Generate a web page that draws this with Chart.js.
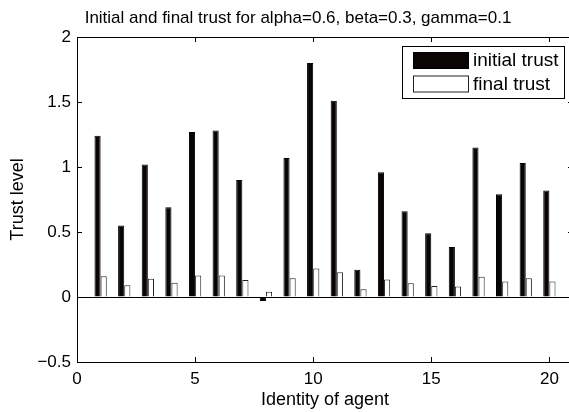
<!DOCTYPE html>
<html lang="en">
<head>
    <meta charset="UTF-8">
    <title>Initial and final trust</title>
    <script src="https://cdn.jsdelivr.net/npm/chart.js"></script>
    <style>
        html, body { margin: 0; padding: 0; background: #fff; overflow: hidden; }
        #wrap { width: 569px; height: 412px; overflow: hidden; }
    </style>
</head>
<body>
    <div id="wrap"><canvas id="chartCanvas" width="573" height="412"></canvas></div>

    <script>
        const agents = [1, 2, 3, 4, 5, 6, 7, 8, 9, 10, 11, 12, 13, 14, 15, 16, 17, 18, 19, 20];
        const initialTrust = [1.24, 0.55, 1.02, 0.69, 1.27, 1.28, 0.90, -0.03, 1.07, 1.80,
                              1.51, 0.21, 0.96, 0.66, 0.49, 0.385, 1.15, 0.79, 1.03, 0.82];
        const finalTrust = [0.16, 0.09, 0.14, 0.11, 0.165, 0.165, 0.13, 0.04, 0.145, 0.22,
                            0.19, 0.06, 0.135, 0.105, 0.085, 0.08, 0.155, 0.12, 0.145, 0.12];
        const xTicks = [0, 5, 10, 15, 20];
        const yTicks = [-0.5, 0, 0.5, 1, 1.5, 2];
        const titleText = 'Initial and final trust for alpha=0.6, beta=0.3, gamma=0.1';

        const FONT = '"Liberation Sans", Arial, Helvetica, sans-serif';

        // matlab style frame, inward ticks, title and boxed legend
        const matlabAxes = {
            id: 'matlabAxes',
            afterDraw(chart) {
                const { ctx, chartArea: a, scales } = chart;
                ctx.save();
                ctx.strokeStyle = '#000';
                ctx.lineWidth = 1;
                ctx.strokeRect(a.left + 0.5, a.top + 0.5, a.right - a.left, a.bottom - a.top);

                const tl = 5;
                ctx.beginPath();
                xTicks.forEach(v => {
                    const x = Math.round(scales.x.getPixelForValue(v)) + 0.5;
                    ctx.moveTo(x, a.bottom); ctx.lineTo(x, a.bottom - tl);
                    ctx.moveTo(x, a.top); ctx.lineTo(x, a.top + tl);
                });
                yTicks.forEach(v => {
                    const y = Math.round(scales.y.getPixelForValue(v)) + 0.5;
                    ctx.moveTo(a.left, y); ctx.lineTo(a.left + tl, y);
                    ctx.moveTo(a.right, y); ctx.lineTo(a.right - tl, y);
                });
                ctx.stroke();

                // title
                ctx.fillStyle = '#000';
                ctx.font = '17px ' + FONT;
                ctx.textAlign = 'center';
                ctx.textBaseline = 'alphabetic';
                ctx.fillText(titleText, 298, 23);

                // legend
                const bw = 162, bh = 52;
                const bx = a.right - 9 - bw, by = a.top + 9;
                ctx.fillStyle = '#fff';
                ctx.fillRect(bx, by, bw, bh);
                ctx.strokeRect(bx + 0.5, by + 0.5, bw, bh);
                ctx.font = '19px ' + FONT;
                ctx.textAlign = 'left';
                ctx.textBaseline = 'middle';
                chart.data.datasets.forEach((ds, i) => {
                    const sy = by + 6 + i * 23.5;
                    ctx.fillStyle = ds.backgroundColor;
                    ctx.fillRect(bx + 11, sy, 55, 16);
                    ctx.strokeStyle = ds.borderColor;
                    ctx.strokeRect(bx + 11.5, sy + 0.5, 55, 16);
                    ctx.fillStyle = '#000';
                    ctx.fillText(ds.label, bx + 71, sy + 9);
                });
                ctx.restore();
            }
        };

        const chart = new Chart(document.getElementById('chartCanvas'), {
            type: 'bar',
            data: {
                datasets: [{
                    label: 'initial trust',
                    data: agents.map((a, i) => ({ x: a, y: initialTrust[i] })),
                    backgroundColor: '#0a0405',
                    borderColor: '#000',
                    borderWidth: 1
                }, {
                    label: 'final trust',
                    data: agents.map((a, i) => ({ x: a, y: finalTrust[i] })),
                    backgroundColor: '#fff',
                    borderColor: '#222',
                    borderWidth: 1
                }]
            },
            options: {
                responsive: false,
                animation: false,
                categoryPercentage: 0.52,
                barPercentage: 1,
                layout: { padding: { top: 37, right: 0, left: 0, bottom: 0 } },
                plugins: {
                    legend: { display: false },
                    title: { display: false },
                    tooltip: { enabled: false }
                },
                scales: {
                    x: {
                        type: 'linear',
                        offset: false,
                        min: 0,
                        max: 21,
                        afterBuildTicks: s => { s.ticks = xTicks.map(v => ({ value: v })); },
                        // axis box runs past the right edge, as in the original figure
                        afterFit: s => { s.height = 50; s.paddingLeft = 0; s.paddingRight = 0; },
                        grid: { display: false, drawTicks: false },
                        border: { display: false },
                        ticks: { color: '#000', font: { family: FONT, size: 17 }, padding: 7, maxRotation: 0 },
                        title: {
                            display: true, text: 'Identity of agent', color: '#000',
                            font: { family: FONT, size: 18 }, padding: { top: 0, bottom: 1 }
                        }
                    },
                    y: {
                        min: -0.5,
                        max: 2,
                        afterBuildTicks: s => { s.ticks = yTicks.map(v => ({ value: v })); },
                        afterFit: s => { s.width = 77; s.paddingTop = 0; s.paddingBottom = 0; },
                        grid: {
                            drawTicks: false,
                            color: c => (c.tick && c.tick.value === 0 ? '#000' : 'rgba(0,0,0,0)')
                        },
                        border: { display: false },
                        ticks: {
                            color: '#000', font: { family: FONT, size: 17 }, padding: 6,
                            callback: v => (v < 0 ? '\u2212' + Math.abs(v) : String(v))
                        },
                        title: {
                            display: true, text: 'Trust level', color: '#000',
                            font: { family: FONT, size: 18 }, padding: { top: 7, bottom: 0 }
                        }
                    }
                }
            },
            plugins: [matlabAxes]
        });
    </script>
</body>
</html>
